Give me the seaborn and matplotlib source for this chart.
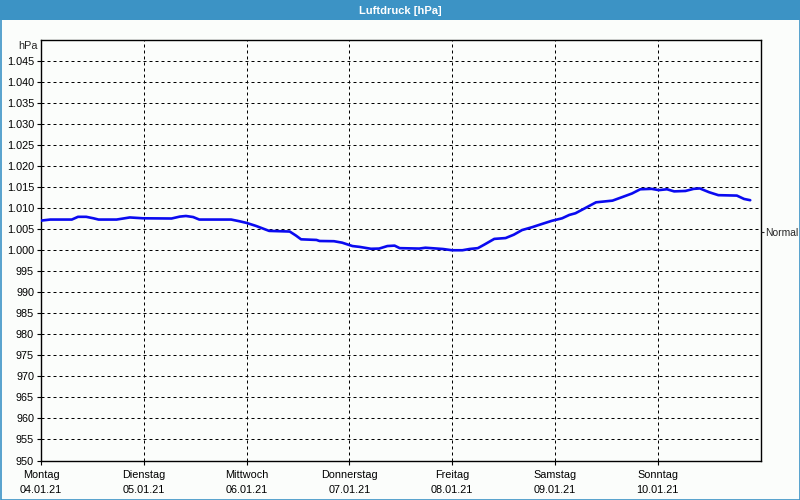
import matplotlib
matplotlib.use("Agg")
import matplotlib.pyplot as plt
import seaborn as sns
import pandas as pd
from matplotlib.patches import Rectangle

# ---- data ----
day_names = ["Montag", "Dienstag", "Mittwoch", "Donnerstag", "Freitag", "Samstag", "Sonntag"]
dates = ["04.01.21", "05.01.21", "06.01.21", "07.01.21", "08.01.21", "09.01.21", "10.01.21"]
days = [0.0, 0.09, 0.30, 0.36, 0.44, 0.51, 0.56, 0.735, 0.80, 0.864, 0.993, 1.27, 1.35, 1.41,
        1.48, 1.54, 1.85, 1.93, 2.0, 2.09, 2.22, 2.42, 2.48, 2.53, 2.68, 2.71, 2.85, 2.93,
        3.03, 3.10, 3.21, 3.29, 3.37, 3.44, 3.49, 3.68, 3.74, 3.91, 4.0, 4.10, 4.17, 4.25,
        4.31, 4.41, 4.52, 4.60, 4.68, 4.78, 4.88, 4.97, 5.07, 5.14, 5.20, 5.30, 5.40, 5.56,
        5.65, 5.75, 5.83, 5.94, 6.01, 6.09, 6.16, 6.27, 6.35, 6.41, 6.50, 6.59, 6.77, 6.84, 6.90]
hpa = [1007.05, 1007.3, 1007.3, 1007.95, 1007.95, 1007.6, 1007.3, 1007.3, 1007.55, 1007.8,
       1007.6, 1007.55, 1008.0, 1008.15, 1007.9, 1007.3, 1007.3, 1006.9, 1006.5, 1005.8,
       1004.6, 1004.45, 1003.5, 1002.6, 1002.45, 1002.2, 1002.15, 1001.8, 1001.0, 1000.8,
       1000.35, 1000.4, 1001.0, 1001.1, 1000.5, 1000.4, 1000.6, 1000.3, 1000.0, 1000.0,
       1000.3, 1000.5, 1001.3, 1002.7, 1002.9, 1003.7, 1004.8, 1005.5, 1006.3, 1007.0,
       1007.6, 1008.4, 1008.8, 1010.1, 1011.4, 1011.8, 1012.6, 1013.5, 1014.5, 1014.6,
       1014.3, 1014.5, 1014.0, 1014.1, 1014.6, 1014.7, 1013.8, 1013.1, 1013.0, 1012.2, 1011.9]
y_ticks = list(range(950, 1050, 5))
normal_value = 1004.3
title = "Luftdruck [hPa]"

df = pd.DataFrame({"day": days, "hPa": hpa})

font = ["Liberation Sans", "DejaVu Sans"]
sns.set_style("white")
plt.rcParams["font.family"] = font
plt.rcParams["font.size"] = 7.8

bg = "#FBFDFB"
fig = plt.figure(figsize=(8, 5), dpi=100, facecolor=bg)
ax = fig.add_axes([41 / 800, 1 - 460.5 / 500, (760.5 - 41) / 800, (460.5 - 40) / 500])
ax.set_facecolor(bg)

# title bar
fig.patches.append(Rectangle((0, 1 - 20 / 500), 1, 20 / 500, transform=fig.transFigure,
                             facecolor="#3C93C5", edgecolor="none", zorder=0))
fig.patches.append(Rectangle((0.5 / 800, 0.5 / 500), 799 / 800, 499 / 500, transform=fig.transFigure,
                             facecolor="none", edgecolor="#3C93C5", lw=1.2, zorder=0))
fig.text(0.5, 1 - 10.5 / 500, title, ha="center", va="center", color="white",
         fontweight="bold", fontsize=8)

sns.lineplot(data=df, x="day", y="hPa", ax=ax, color="#0A0AF0", lw=1.9, zorder=5)

ax.set_xlim(0, 7)
ax.set_ylim(950, 1050)
ax.set_xlabel("")
ax.set_ylabel("")

def fmt(v):
    return f"{v:,}".replace(",", ".")

ax.set_yticks(y_ticks)
ax.set_yticklabels([fmt(v) for v in y_ticks])
ax.set_xticks(range(7))
ax.set_xticklabels([f"{d}\n{dt}" for d, dt in zip(day_names, dates)], linespacing=1.55)
ax.tick_params(axis="both", direction="out", length=3, width=0.8, color="black",
               labelcolor="black", pad=2)
ax.tick_params(axis="x", pad=4)
ax.tick_params(axis="y", left=True)
ax.tick_params(axis="x", bottom=True)

for v in y_ticks[1:]:
    ax.axhline(v, color="black", lw=0.72, ls=(0, (3, 3)), zorder=1)
for d in range(1, 7):
    ax.axvline(d, color="black", lw=0.72, ls=(0, (3, 3)), zorder=1)

for s in ax.spines.values():
    s.set_visible(True)
    s.set_color("black")
    s.set_linewidth(1.0)

ax.text(-0.004, 1 - 6 / 420, "hPa", transform=ax.transAxes, ha="right", va="center",
        fontsize=7.8)

ax2 = ax.twinx()
ax2.set_ylim(950, 1050)
ax2.set_yticks([normal_value])
ax2.set_yticklabels(["Normal"])
ax2.tick_params(axis="y", direction="out", length=2, width=0.8, pad=1, labelsize=7.4)
for s in ax2.spines.values():
    s.set_visible(False)

fig.savefig("out.png", dpi=100, facecolor=bg)
